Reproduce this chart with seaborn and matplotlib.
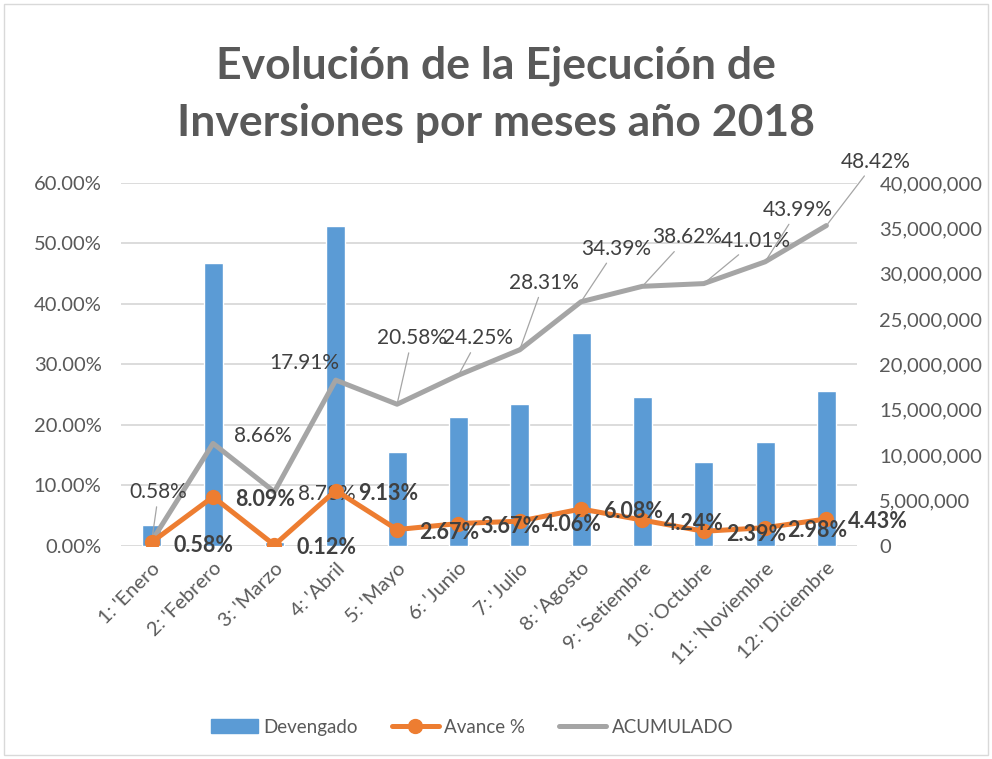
import numpy as np
import pandas as pd
import matplotlib
matplotlib.use('Agg')
import matplotlib.pyplot as plt
import seaborn as sns
from matplotlib.ticker import PercentFormatter, FuncFormatter
from matplotlib.patches import Patch, Rectangle
from matplotlib.lines import Line2D

# --- datos ---
meses = ["1: 'Enero", "2: 'Febrero", "3: 'Marzo", "4: 'Abril", "5: 'Mayo", "6: 'Junio",
         "7: 'Julio", "8: 'Agosto", "9: 'Setiembre", "10: 'Octubre", "11: 'Noviembre",
         "12: 'Diciembre"]
devengado = [2240000, 31200000, 460000, 35210000, 10300000, 14150000,
             15660000, 23450000, 16350000, 9220000, 11490000, 17090000]
avance = [0.58, 8.09, 0.12, 9.13, 2.67, 3.67, 4.06, 6.08, 4.24, 2.39, 2.98, 4.43]
acumulado = [500000, 11280000, 5950000, 18260000, 15600000, 18800000,
             21600000, 26900000, 28600000, 28900000, 31300000, 35300000]
acumulado_pct = ["0.58%", "8.66%", "8.78%", "17.91%", "20.58%", "24.25%",
                 "28.31%", "34.39%", "38.62%", "41.01%", "43.99%", "48.42%"]

AZUL, NARANJA, GRIS = '#5B9BD5', '#ED7D31', '#A5A5A5'
TXT = '#595959'

sns.set_style('white')
plt.rcParams['font.family'] = ['Lato', 'DejaVu Sans']

df = pd.DataFrame({'mes': meses, 'devengado': devengado, 'avance': avance,
                   'acumulado': acumulado, 'pos': np.arange(len(meses))})

fig = plt.figure(figsize=(9.92, 7.59), dpi=100)
rect = [0.122, 0.281, 0.742, 0.478]

# eje base: porcentaje + rejilla
ax = fig.add_axes(rect)
ax.set_ylim(0, 60)
ax.yaxis.set_major_formatter(PercentFormatter(xmax=100, decimals=2))
ax.grid(axis='y', color='#D9D9D9', lw=1.3)
ax.set_yticks(np.arange(0, 61, 10))
for s in ax.spines.values():
    s.set_visible(False)
ax.tick_params(axis='y', colors=TXT, labelsize=14.5, length=0, pad=14)

# eje secundario: montos (barras + acumulado)
ax2 = ax.twinx()
sns.barplot(data=df, x='mes', y='devengado', ax=ax2, color=AZUL, width=0.31,
            saturation=1)
sns.lineplot(data=df, x='pos', y='acumulado', ax=ax2, color=GRIS, lw=3.6)
ax2.set_ylim(0, 40000000)
ax2.set_yticks(np.arange(0, 40000001, 5000000))
ax2.yaxis.set_major_formatter(FuncFormatter(lambda v, p: f'{v:,.0f}'))
ax2.tick_params(axis='y', colors=TXT, labelsize=14.5, length=0, pad=16)
ax2.set_xlabel('')
ax2.set_ylabel('')
for s in ax2.spines.values():
    s.set_visible(False)

# etiquetas acumulado
offs = [(7, 49), (50, 7), (52, -2), (-31, 17), (15, 66), (20, 37), (24, 67),
        (35, 53), (45, 49), (52, 43), (33, 52), (49, 64)]
lider = [True, False, False, False, True, True, True, True, True, True, True, True]
for i, (v, t) in enumerate(zip(acumulado, acumulado_pct)):
    ap = dict(arrowstyle='-', color=GRIS, lw=0.9, shrinkA=1, shrinkB=2) if lider[i] else None
    ax2.annotate(t, (i, v), xytext=offs[i], textcoords='offset pixels',
                 ha='center', va='center', fontsize=15, color='#404040',
                 arrowprops=ap, annotation_clip=False)

# eje superior: avance %
ax3 = ax.twinx()
sns.lineplot(data=df, x='pos', y='avance', ax=ax3, color=NARANJA, lw=3.6,
             marker='o', markersize=11, markeredgewidth=0)
ax3.set_ylim(0, 60)
ax3.set_yticks([])
ax3.set_ylabel('')
for s in ax3.spines.values():
    s.set_visible(False)
for i, v in enumerate(avance):
    ax3.annotate(f'{v:.2f}%', (i, v), xytext=(22, -3), textcoords='offset pixels',
                 ha='left', va='center', fontsize=15.5, fontweight='bold',
                 color='#404040', annotation_clip=False)

# eje x (compartido)
ax.set_xlim(-0.5, len(meses) - 0.5)
ax.set_xticks(np.arange(len(meses)))
ax.set_xticklabels(meses, rotation=45, ha='right', rotation_mode='anchor')
ax.tick_params(axis='x', colors=TXT, labelsize=14.5, length=0, pad=10)
ax.set_xlabel('')

fig.text(0.5, 0.914, 'Evolución de la Ejecución de', ha='center', va='center',
         fontsize=32, fontweight='bold', color=TXT)
fig.text(0.5, 0.838, 'Inversiones por meses año 2018', ha='center', va='center',
         fontsize=32, fontweight='bold', color=TXT)

handles = [Patch(color=AZUL),
           Line2D([], [], color=NARANJA, lw=3.6, marker='o', markersize=10),
           Line2D([], [], color=GRIS, lw=3.6)]
fig.legend(handles, ['Devengado', 'Avance %', 'ACUMULADO'], loc='center',
           bbox_to_anchor=(0.476, 0.042), ncol=3, frameon=False, fontsize=13.5,
           labelcolor=TXT, handlelength=2.5, columnspacing=1.8, handletextpad=0.3)

fig.patches.append(Rectangle((0.004, 0.005), 0.992, 0.99, transform=fig.transFigure,
                             fill=False, edgecolor='#D9D9D9', lw=1))

fig.savefig('out.png', dpi=100)
